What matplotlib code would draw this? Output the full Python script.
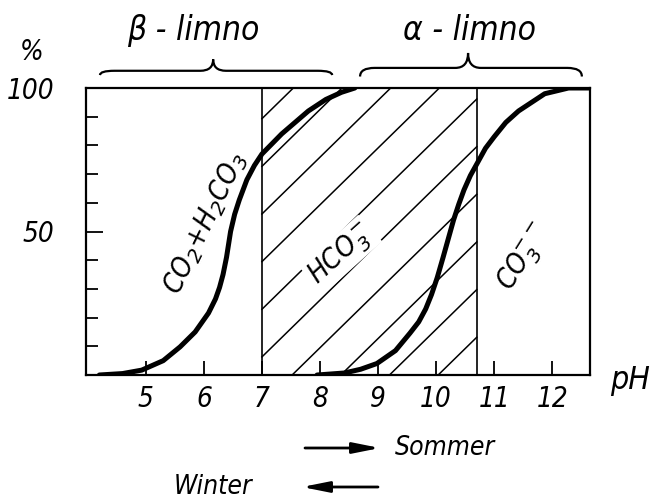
import matplotlib
matplotlib.use("Agg")
import matplotlib.pyplot as plt
from matplotlib.path import Path
from matplotlib.patches import PathPatch

plt.rcParams['font.family'] = ['DejaVu Sans']
plt.rcParams['mathtext.fontset'] = 'custom'
plt.rcParams['mathtext.rm'] = 'DejaVu Sans:italic'
plt.rcParams['mathtext.it'] = 'DejaVu Sans:italic'

# Données
ph_ticks = [5, 6, 7, 8, 9, 10, 11, 12]
pct_major = [50, 100]
pct_minor = [10, 20, 30, 40, 60, 70, 80, 90]

# courbe CO2 + H2CO3
co2_ph = [4.2, 4.6, 4.93, 5.3, 5.59, 5.85, 6.08, 6.2, 6.27, 6.33, 6.39, 6.46, 6.53,
          6.61, 6.74, 6.87, 7.0, 7.34, 7.8, 8.1, 8.37, 8.6]
co2_pct = [0, 0.5, 1.7, 5, 9.8, 15, 21.6, 26.5, 30.5, 35, 41, 50, 56,
           61, 68, 73, 77, 84, 92, 96, 98.5, 100]

# courbe CO3--
co3_ph = [7.95, 8.42, 8.7, 8.98, 9.3, 9.55, 9.7, 9.82, 9.92, 10.02, 10.12, 10.21, 10.3,
          10.39, 10.48, 10.59, 10.7, 10.85, 11.0, 11.2, 11.42, 11.87, 12.28, 12.64]
co3_pct = [0, 0.7, 2, 4, 8.5, 14.6, 18.5, 23, 28, 34, 41, 47.5, 54,
           59.5, 64.5, 69.5, 73.5, 79, 83, 88, 92, 98, 100, 100]

# zone HCO3- (hachurée)
hco3_bounds = [7.0, 10.7]

# accolades limno
beta_span = [4.21, 6.16, 8.21]
alpha_span = [8.69, 10.55, 12.51]

txt = dict(style='oblique', fontstretch='condensed', color='black')

fig = plt.figure(figsize=(6.54, 5.0), dpi=100)
ax = fig.add_axes([86 / 654, 125 / 500, 504 / 654, 287 / 500])
ax.set_xlim(3.97, 12.65)
ax.set_ylim(0, 100)

for sp in ax.spines.values():
    sp.set_linewidth(1.6)

ax.set_xticks(ph_ticks)
ax.set_xticklabels([str(v) for v in ph_ticks], fontsize=20, **txt)
ax.tick_params(axis='x', direction='in', length=10, width=1.3, pad=7)

ax.set_yticks(pct_major)
ax.set_yticklabels([str(v) for v in pct_major], fontsize=20, **txt)
ax.set_yticks(pct_minor, minor=True)
ax.tick_params(axis='y', which='major', direction='in', length=12, width=1.3, pad=23)
ax.tick_params(axis='y', which='minor', direction='in', length=8.5, width=1.3)

# hachures de la zone HCO3-
slope = 19.8
spacing = 16.6
c0 = 6.3
x_lo, x_hi = hco3_bounds
for k in range(-8, 9):
    c = c0 + k * spacing
    xa = max(x_lo, x_lo + (0 - c) / slope)
    xb = min(x_hi, x_lo + (100 - c) / slope)
    if xa < xb:
        ax.plot([xa, xb], [c + slope * (xa - x_lo), c + slope * (xb - x_lo)],
                color='black', lw=1.1, zorder=1)

for xv in hco3_bounds:
    ax.axvline(xv, color='black', lw=1.2, zorder=2)

ax.plot(co2_ph, co2_pct, color='black', lw=3.6, solid_capstyle='round',
        solid_joinstyle='round', zorder=4)
ax.plot(co3_ph, co3_pct, color='black', lw=3.6, solid_capstyle='round',
        solid_joinstyle='round', zorder=4)

# étiquettes des espèces
ax.text(6.02, 53, 'CO$_2$+H$_2$CO$_3$', rotation=64, ha='center', va='center',
        fontsize=20, zorder=5, **txt)
ax.text(8.36, 42, 'HCO$_3^-$', rotation=42, ha='center', va='center', fontsize=20,
        zorder=5, bbox=dict(facecolor='white', edgecolor='none', pad=1), **txt)
ax.text(11.53, 41, 'CO$_3^{--}$', rotation=58, ha='center', va='center',
        fontsize=20, zorder=5, **txt)


def accolade(ax, span, y_end, y_flat, y_peak):
    x0, xm, x1 = span
    d = 0.25
    d2 = 0.22
    verts = [(x0, y_end), (x0, y_flat), (x0 + d, y_flat),
             (xm - d2, y_flat), (xm, y_flat), (xm, y_peak),
             (xm, y_flat), (xm + d2, y_flat),
             (x1 - d, y_flat), (x1, y_flat), (x1, y_end)]
    codes = [Path.MOVETO, Path.CURVE3, Path.CURVE3,
             Path.LINETO, Path.CURVE3, Path.CURVE3,
             Path.CURVE3, Path.CURVE3,
             Path.LINETO, Path.CURVE3, Path.CURVE3]
    ax.add_patch(PathPatch(Path(verts, codes), facecolor='none', edgecolor='black',
                           lw=1.6, clip_on=False))


accolade(ax, beta_span, 104.5, 106.0, 110.0)
accolade(ax, alpha_span, 104.0, 107.0, 112.2)

ax.text(5.81, 120, 'β - limno', ha='center', va='center', fontsize=24,
        clip_on=False, **txt)
ax.text(10.58, 120, 'α - limno', ha='center', va='center', fontsize=24,
        clip_on=False, **txt)

fig.text(32 / 654, 1 - 52 / 500, '%', ha='center', va='center', fontsize=20, **txt)
fig.text(630 / 654, 1 - 381 / 500, 'pH', ha='center', va='center', fontsize=23, **txt)

# flèches Sommer / Winter
arrow = dict(arrowstyle='-|>,head_length=0.9,head_width=0.18', lw=2.0, color='black',
             shrinkA=0, shrinkB=0, mutation_scale=18)
ax.annotate('', xy=(380 / 654, 1 - 448 / 500), xytext=(305 / 654, 1 - 448 / 500),
            xycoords='figure fraction', textcoords='figure fraction', arrowprops=arrow)
ax.annotate('', xy=(302 / 654, 1 - 487 / 500), xytext=(378 / 654, 1 - 487 / 500),
            xycoords='figure fraction', textcoords='figure fraction', arrowprops=arrow)
fig.text(395 / 654, 1 - 448 / 500, 'Sommer', ha='left', va='center', fontsize=19, **txt)
fig.text(252 / 654, 1 - 487 / 500, 'Winter', ha='right', va='center', fontsize=19, **txt)

fig.savefig('out.png', dpi=100)
